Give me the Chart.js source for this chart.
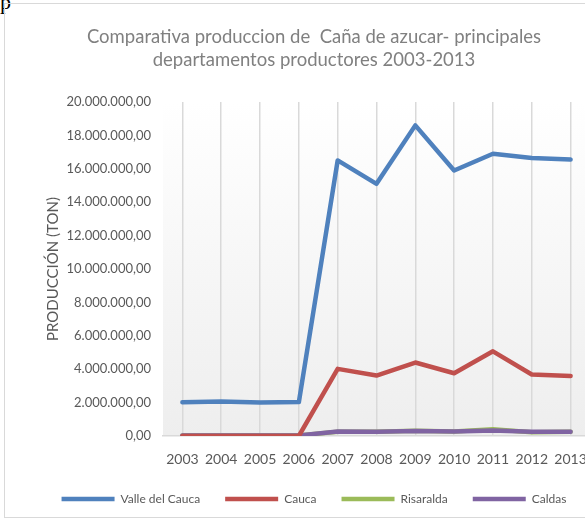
<!DOCTYPE html>
<html>
<head>
<meta charset="utf-8">
<script src="https://cdn.jsdelivr.net/npm/chart.js@4/dist/chart.umd.min.js"></script>
<style>
  html, body { margin: 0; padding: 0; background: #fff; overflow: hidden; width: 585px; height: 527px; }
  #frame { position: absolute; left: 4px; top: 3px; width: 620px; height: 513px; border: 1px solid #d9d9d9; overflow: hidden; }
  #doc { position: absolute; left: 0; top: -11px; font: 22px "Liberation Serif", serif; color: #000; }
</style>
</head>
<body>
<div id="doc">p</div>
<div id="frame"><canvas id="chart" width="620" height="513"></canvas></div>
<script>
const years = ["2003", "2004", "2005", "2006", "2007", "2008", "2009", "2010", "2011", "2012", "2013"];
const valleDelCauca = [2020000, 2060000, 2010000, 2030000, 16500000, 15100000, 18600000, 15900000, 16900000, 16650000, 16550000];
const cauca = [0, 0, 0, 0, 4020000, 3620000, 4400000, 3760000, 5070000, 3680000, 3600000];
const risaralda = [30000, 30000, 30000, 30000, 260000, 250000, 310000, 270000, 400000, 230000, 250000];
const caldas = [30000, 30000, 30000, 30000, 270000, 260000, 300000, 270000, 330000, 250000, 250000];
const yTicks = [0, 2000000, 4000000, 6000000, 8000000, 10000000, 12000000, 14000000, 16000000, 18000000, 20000000];

const FONT = "Lato, Calibri, sans-serif";

function fmt(v) {
  const s = Math.round(v).toString().replace(/\B(?=(\d{3})+(?!\d))/g, ".");
  return s + ",00";
}

// light gray gradient behind the plot, like the Excel chart
const plotBg = {
  id: "plotBg",
  beforeDraw(chart) {
    const { ctx, chartArea: a } = chart;
    const g = ctx.createLinearGradient(0, a.top, 0, a.bottom);
    g.addColorStop(0, "#ffffff");
    g.addColorStop(1, "#eeeeee");
    ctx.save();
    ctx.fillStyle = g;
    ctx.fillRect(a.left, a.top, a.right - a.left, a.bottom - a.top);
    ctx.restore();
  }
};

function line(label, data, color, order) {
  return {
    label, data, order,
    borderColor: color,
    backgroundColor: color,
    borderWidth: 4.5,
    pointRadius: 0,
    borderJoinStyle: "round",
    borderCapStyle: "round",
    tension: 0,
    fill: false
  };
}

new Chart(document.getElementById("chart"), {
  type: "line",
  data: {
    labels: years,
    datasets: [
      line("Valle del Cauca", valleDelCauca, "#4f81bd", 1),
      line("Cauca", cauca, "#c0504d", 2),
      line("Risaralda", risaralda, "#9bbb59", 4),
      line("Caldas", caldas, "#8064a2", 3)
    ]
  },
  options: {
    responsive: false,
    animation: false,
    layout: { padding: { left: 27, right: 29, top: 0, bottom: 2 } },
    plugins: {
      title: {
        display: true,
        text: ["Comparativa produccion de  Caña de azucar- principales", "departamentos productores 2003-2013"],
        color: "#808080",
        font: { family: FONT, size: 18.5, weight: "normal", lineHeight: 1.27 },
        padding: { top: 21, bottom: 30 }
      },
      legend: {
        position: "bottom",
        labels: {
          usePointStyle: true,
          pointStyle: "line",
          pointStyleWidth: 53,
          boxHeight: 12,
          color: "#595959",
          font: { family: FONT, size: 12 },
          padding: 25,
          sort: (a, b) => a.datasetIndex - b.datasetIndex
        }
      },
      tooltip: { enabled: false }
    },
    scales: {
      x: {
        offset: true,
        grid: { offset: false, color: "#d9d9d9", lineWidth: 1.5, drawTicks: false },
        border: { color: "#d9d9d9", width: 1.5 },
        ticks: { color: "#595959", font: { family: FONT, size: 14 }, padding: 15, maxRotation: 0, autoSkip: false },
        afterFit(s) { s.height = 32; }
      },
      y: {
        min: 0, max: 20000000,
        afterBuildTicks(s) { s.ticks = yTicks.map(v => ({ value: v })); },
        grid: { display: false, drawTicks: false },
        border: { display: false },
        ticks: { color: "#595959", font: { family: FONT, size: 13 }, padding: 12, callback: v => fmt(v) },
        title: { display: true, text: "PRODUCCIÓN (TON)", color: "#595959", font: { family: FONT, size: 15 }, padding: { top: 12 } },
        afterFit(s) { s.width = 131; }
      },
      // empty spacer on the right so the plot runs past the cropped edge
      spacer: {
        type: "linear",
        axis: "y",
        position: "right",
        grid: { display: false },
        border: { display: false },
        ticks: { display: false },
        afterFit(s) { s.width = 6; }
      }
    }
  },
  plugins: [plotBg]
});
</script>
</body>
</html>
